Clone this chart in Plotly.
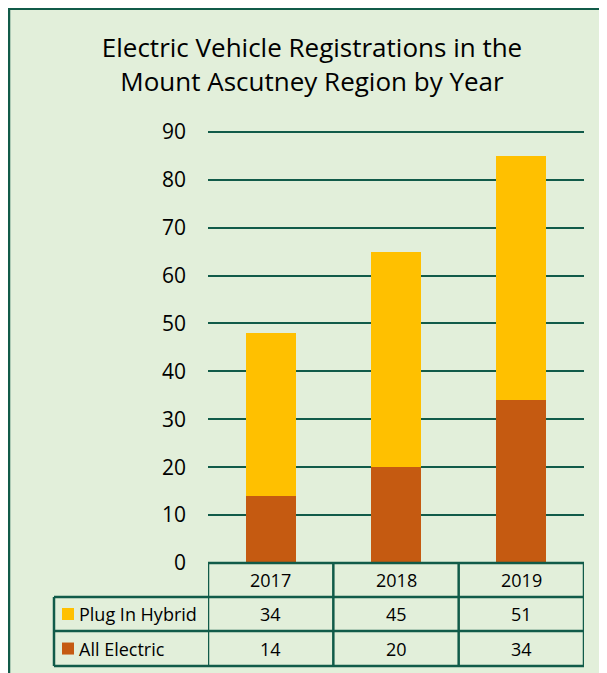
import plotly.graph_objects as go

# data
YEARS = ["2017", "2018", "2019"]
ALL_ELECTRIC = [14, 20, 34]
PLUG_IN_HYBRID = [34, 45, 51]
SERIES_NAMES = ["Plug In Hybrid", "All Electric"]
Y_TOP = 91  # axis headroom so the 90 gridline is drawn

# colours
BG = "#E2EFDA"
LINE = "#115B49"
ORANGE = "#C55A11"
YELLOW = "#FFC000"
FONT = "Open Sans"

# the page body adds an 8px margin, so the figure is 8px smaller than the window
OFF = 8
W, H = 607 - OFF, 673 - OFF
L, R, B = 208, 584, 563          # plot area in window pixels
T = B - (B - 132) * Y_TOP / 90   # 90 sits at y=132
PH = B - T


def px(x):
    return (x - L) / (R - L)


def py(y):
    return (B - y) / PH


fig = go.Figure()
fig.add_trace(go.Bar(x=YEARS, y=ALL_ELECTRIC, name=SERIES_NAMES[1],
                     marker_color=ORANGE, marker_line_width=0))
fig.add_trace(go.Bar(x=YEARS, y=PLUG_IN_HYBRID, name=SERIES_NAMES[0],
                     marker_color=YELLOW, marker_line_width=0))

shapes = []
annotations = []

# chart frame on the left and top edges
shapes.append(dict(type="line", xref="paper", yref="paper", x0=px(9), x1=px(9),
                   y0=py(700), y1=py(8), line=dict(color=LINE, width=2.5)))
shapes.append(dict(type="line", xref="paper", yref="paper", x0=px(8), x1=px(640),
                   y0=py(9), y1=py(9), line=dict(color=LINE, width=2.5)))

# data table below the axis
rows = [py(B), py(597), py(631), py(666)]
row_mid = [py(580), py(614), py(648.5)]
lw = dict(color=LINE, width=2.5)
shapes.append(dict(type="line", xref="paper", yref="paper", x0=0, x1=1,
                   y0=rows[0], y1=rows[0], line=lw))
for r in rows[1:]:
    shapes.append(dict(type="line", xref="paper", yref="paper", x0=px(54), x1=1,
                       y0=r, y1=r, line=lw))
for i in range(len(YEARS) + 1):
    shapes.append(dict(type="line", xref="x", yref="paper", x0=i - 0.5, x1=i - 0.5,
                       y0=rows[3], y1=rows[0], line=lw))
shapes.append(dict(type="line", xref="paper", yref="paper", x0=px(54), x1=px(54),
                   y0=rows[3], y1=rows[1], line=lw))

cell_font = dict(size=18, color="black", family=FONT)
for i, yr in enumerate(YEARS):
    for text, ym in [(yr, row_mid[0]), (str(PLUG_IN_HYBRID[i]), row_mid[1]),
                     (str(ALL_ELECTRIC[i]), row_mid[2])]:
        annotations.append(dict(x=i, xref="x", y=ym, yref="paper", text=text,
                                xanchor="center", yanchor="middle",
                                showarrow=False, font=cell_font))

# legend keys in the table
for name, col, ym in [(SERIES_NAMES[0], YELLOW, row_mid[1]), (SERIES_NAMES[1], ORANGE, row_mid[2])]:
    shapes.append(dict(type="rect", xref="paper", yref="paper",
                       x0=px(62), x1=px(74), y0=ym - 6 / PH, y1=ym + 6 / PH,
                       fillcolor=col, line=dict(width=0)))
    annotations.append(dict(x=px(77), xref="paper", y=ym, yref="paper", text=name,
                            xanchor="left", yanchor="middle", showarrow=False,
                            font=cell_font))

fig.update_layout(
    width=W, height=H,
    barmode="stack",
    bargap=0.6,
    showlegend=False,
    paper_bgcolor=BG,
    plot_bgcolor=BG,
    margin=dict(l=L - OFF, r=W - (R - OFF), t=T - OFF, b=H - (B - OFF), pad=0),
    font=dict(family=FONT, color="black"),
    title=dict(text="Electric Vehicle Registrations in the<br>Mount Ascutney Region by Year",
               x=(312 - OFF) / W, xanchor="center", xref="container",
               y=1 - 49 / H, yanchor="top", yref="container",
               font=dict(size=26, color="black", family=FONT)),
    xaxis=dict(type="category", showticklabels=False, showgrid=False, zeroline=False,
               showline=False, range=[-0.5, 2.5]),
    yaxis=dict(range=[0, Y_TOP], tickvals=list(range(0, 91, 10)), showgrid=True,
               gridcolor=LINE, gridwidth=2, zeroline=False, showline=False, ticks="",
               ticklabelstandoff=21,
               tickfont=dict(size=21, color="black", family=FONT)),
    shapes=shapes,
    annotations=annotations,
)

fig.write_html("out.html")
